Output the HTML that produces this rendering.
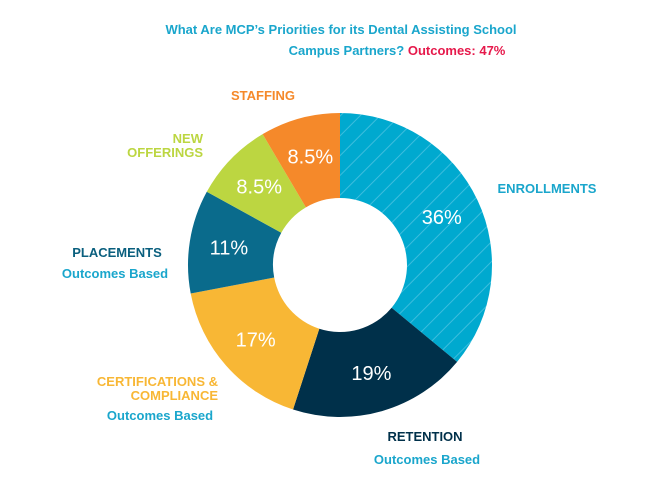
<!DOCTYPE html>
<html><head><meta charset="utf-8"><style>
body{margin:0;background:#fff;width:656px;height:491px;overflow:hidden;font-family:"Liberation Sans",sans-serif}
svg{display:block}
.lb{font-weight:bold;font-size:13px}
</style></head><body>
<svg width="656" height="491">
<defs><pattern id="hatch" patternUnits="userSpaceOnUse" width="14" height="14" patternTransform="rotate(45)"><rect width="14" height="14" fill="#00a9cf"/><line x1="0" y1="0" x2="0" y2="14" stroke="#3dbddd" stroke-width="2"/></pattern></defs>
<text x="341" y="34" text-anchor="middle" class="lb" fill="#1aa6cc" font-size="14">What Are MCP’s  Priorities for its Dental Assisting School</text>
<text x="397" y="55" text-anchor="middle" class="lb" font-size="14"><tspan fill="#1aa6cc">Campus Partners? </tspan><tspan fill="#e6194b">Outcomes:  47%</tspan></text>
<g id="slices"></g>
<text x="263" y="100" text-anchor="middle" class="lb" fill="#f5892a">STAFFING</text>
<text x="203" y="143" text-anchor="end" class="lb" fill="#bcd641"><tspan x="203">NEW</tspan><tspan x="203" dy="14">OFFERINGS</tspan></text>
<text x="547" y="193" text-anchor="middle" class="lb" fill="#1aa6cc">ENROLLMENTS</text>
<text x="117" y="257" text-anchor="middle" class="lb" fill="#0a5f7e">PLACEMENTS</text>
<text x="115" y="278" text-anchor="middle" class="lb" fill="#1aa6cc">Outcomes Based</text>
<text x="218" y="386" text-anchor="end" class="lb" fill="#f8b735"><tspan x="218">CERTIFICATIONS &amp;</tspan><tspan x="218" dy="14">COMPLIANCE</tspan></text>
<text x="160" y="420" text-anchor="middle" class="lb" fill="#1aa6cc">Outcomes Based</text>
<text x="425" y="441" text-anchor="middle" class="lb" fill="#00304a">RETENTION</text>
<text x="427" y="464" text-anchor="middle" class="lb" fill="#1aa6cc">Outcomes Based</text>
</svg>
<script>
const categories=["Enrollments","Retention","Certifications","Placements","New Offerings","Staffing"];
const values=[36,19,17,11,8.5,8.5];
const valueLabels=["36%","19%","17%","11%","8.5%","8.5%"];
const colors=["url(#hatch)","#00304a","#f8b735","#0a6b8c","#bcd641","#f5892a"];
const cx=340,cy=265,R=152,r=67;
const g=document.getElementById('slices');
const ns="http://www.w3.org/2000/svg";
const total=values.reduce((a,b)=>a+b,0);
let a0=0;
function pt(a,rad){return [cx+rad*Math.sin(a),cy-rad*Math.cos(a)];}
values.forEach((v,i)=>{
 const a1=a0+v/total*2*Math.PI;
 const [x0,y0]=pt(a0,R),[x1,y1]=pt(a1,R),[x2,y2]=pt(a1,r),[x3,y3]=pt(a0,r);
 const lg=(a1-a0)>Math.PI?1:0;
 const p=document.createElementNS(ns,'path');
 p.setAttribute('d',`M${x0},${y0}A${R},${R} 0 ${lg} 1 ${x1},${y1}L${x2},${y2}A${r},${r} 0 ${lg} 0 ${x3},${y3}Z`);
 p.setAttribute('fill',colors[i]);
 
 
 g.appendChild(p);
 const m=(a0+a1)/2;const [tx,ty]=pt(m,(R+r)/2+3);
 const t=document.createElementNS(ns,'text');
 t.setAttribute('x',tx);t.setAttribute('y',ty+7);
 t.setAttribute('text-anchor','middle');t.setAttribute('fill','#fff');t.setAttribute('font-size','20');
 t.textContent=valueLabels[i];
 
 
 g.appendChild(t);
 a0=a1;
});
</script>
</body></html>
